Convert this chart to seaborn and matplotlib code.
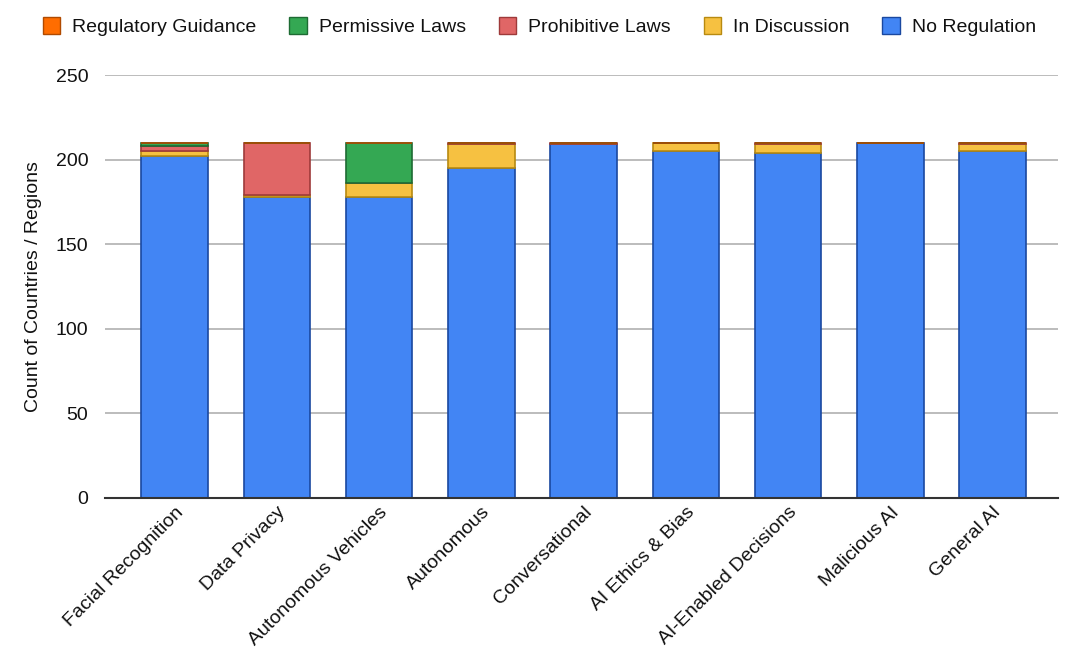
import numpy as np
import pandas as pd
import seaborn as sns
import matplotlib.pyplot as plt
from matplotlib.patches import Patch

categories = ["Facial Recognition", "Data Privacy", "Autonomous Vehicles", "Autonomous",
              "Conversational", "AI Ethics & Bias", "AI-Enabled Decisions", "Malicious AI", "General AI"]

# stacked from bottom to top
no_regulation = [202, 178, 178, 195, 209, 205, 204, 210, 205]
in_discussion = [3, 1, 8, 14, 0, 5, 5, 0, 4]
prohibitive = [3, 31, 0, 1, 1, 0, 1, 0, 1]
permissive = [2, 0, 24, 0, 0, 0, 0, 0, 0]
regulatory = [0, 0, 0, 0, 0, 0, 0, 0, 0]

series = [
    ("No Regulation", no_regulation, "#4285F4", "#1A48A0"),
    ("In Discussion", in_discussion, "#F6C141", "#B88A10"),
    ("Prohibitive Laws", prohibitive, "#E06666", "#9E3A3A"),
    ("Permissive Laws", permissive, "#34A853", "#1E6B33"),
    ("Regulatory Guidance", regulatory, "#FF6D01", "#B04A00"),
]

sns.set_style("white")
plt.rcParams['font.family'] = ['Liberation Sans', 'DejaVu Sans']

fig = plt.figure(figsize=(10.68, 6.57), dpi=100)
ax = fig.add_axes([105 / 1068, 1 - 498 / 657, (1058 - 105) / 1068, (498 - 75) / 657])

bottom = np.zeros(len(categories))
for name, vals, col, edge in series:
    df = pd.DataFrame({"cat": categories, "val": vals})
    sns.barplot(data=df, x="cat", y="val", color=col, width=0.65, bottom=bottom,
                edgecolor=edge, linewidth=1.2, saturation=1, ax=ax, zorder=3)
    bottom = bottom + np.array(vals)

ax.set_ylim(0, 250)
ax.set_xlim(-0.68, 8.64)
ax.set_yticks([0, 50, 100, 150, 200, 250])
ax.yaxis.grid(True, color="#b0b0b0", linewidth=1.2, zorder=0)
ax.set_axisbelow(True)
for s in ["top", "right", "left"]:
    ax.spines[s].set_visible(False)
ax.spines["bottom"].set_color("#333333")
ax.spines["bottom"].set_linewidth(1.5)
ax.spines["bottom"].set_zorder(4)
ax.tick_params(axis="y", length=0, pad=12, labelsize=14, labelcolor="#111111")
ax.tick_params(axis="x", length=0, pad=4, labelsize=14, labelcolor="#111111")
plt.setp(ax.get_xticklabels(), rotation=45, ha="right", rotation_mode="anchor")
ax.set_xlabel("")
ax.set_ylabel("Count of Countries / Regions", fontsize=14, color="#111111", labelpad=10)

legend_order = ["Regulatory Guidance", "Permissive Laws", "Prohibitive Laws", "In Discussion", "No Regulation"]
lookup = {name: (col, edge) for name, vals, col, edge in series}
handles = [Patch(facecolor=lookup[n][0], edgecolor=lookup[n][1], label=n) for n in legend_order]
fig.legend(handles=handles, loc="upper center", bbox_to_anchor=(0.505, 1.0), ncol=5,
           frameon=False, fontsize=14, handlelength=0.9, handleheight=0.9,
           columnspacing=1.7, handletextpad=0.6, labelcolor="#111111")

fig.savefig("out.png", dpi=100)
